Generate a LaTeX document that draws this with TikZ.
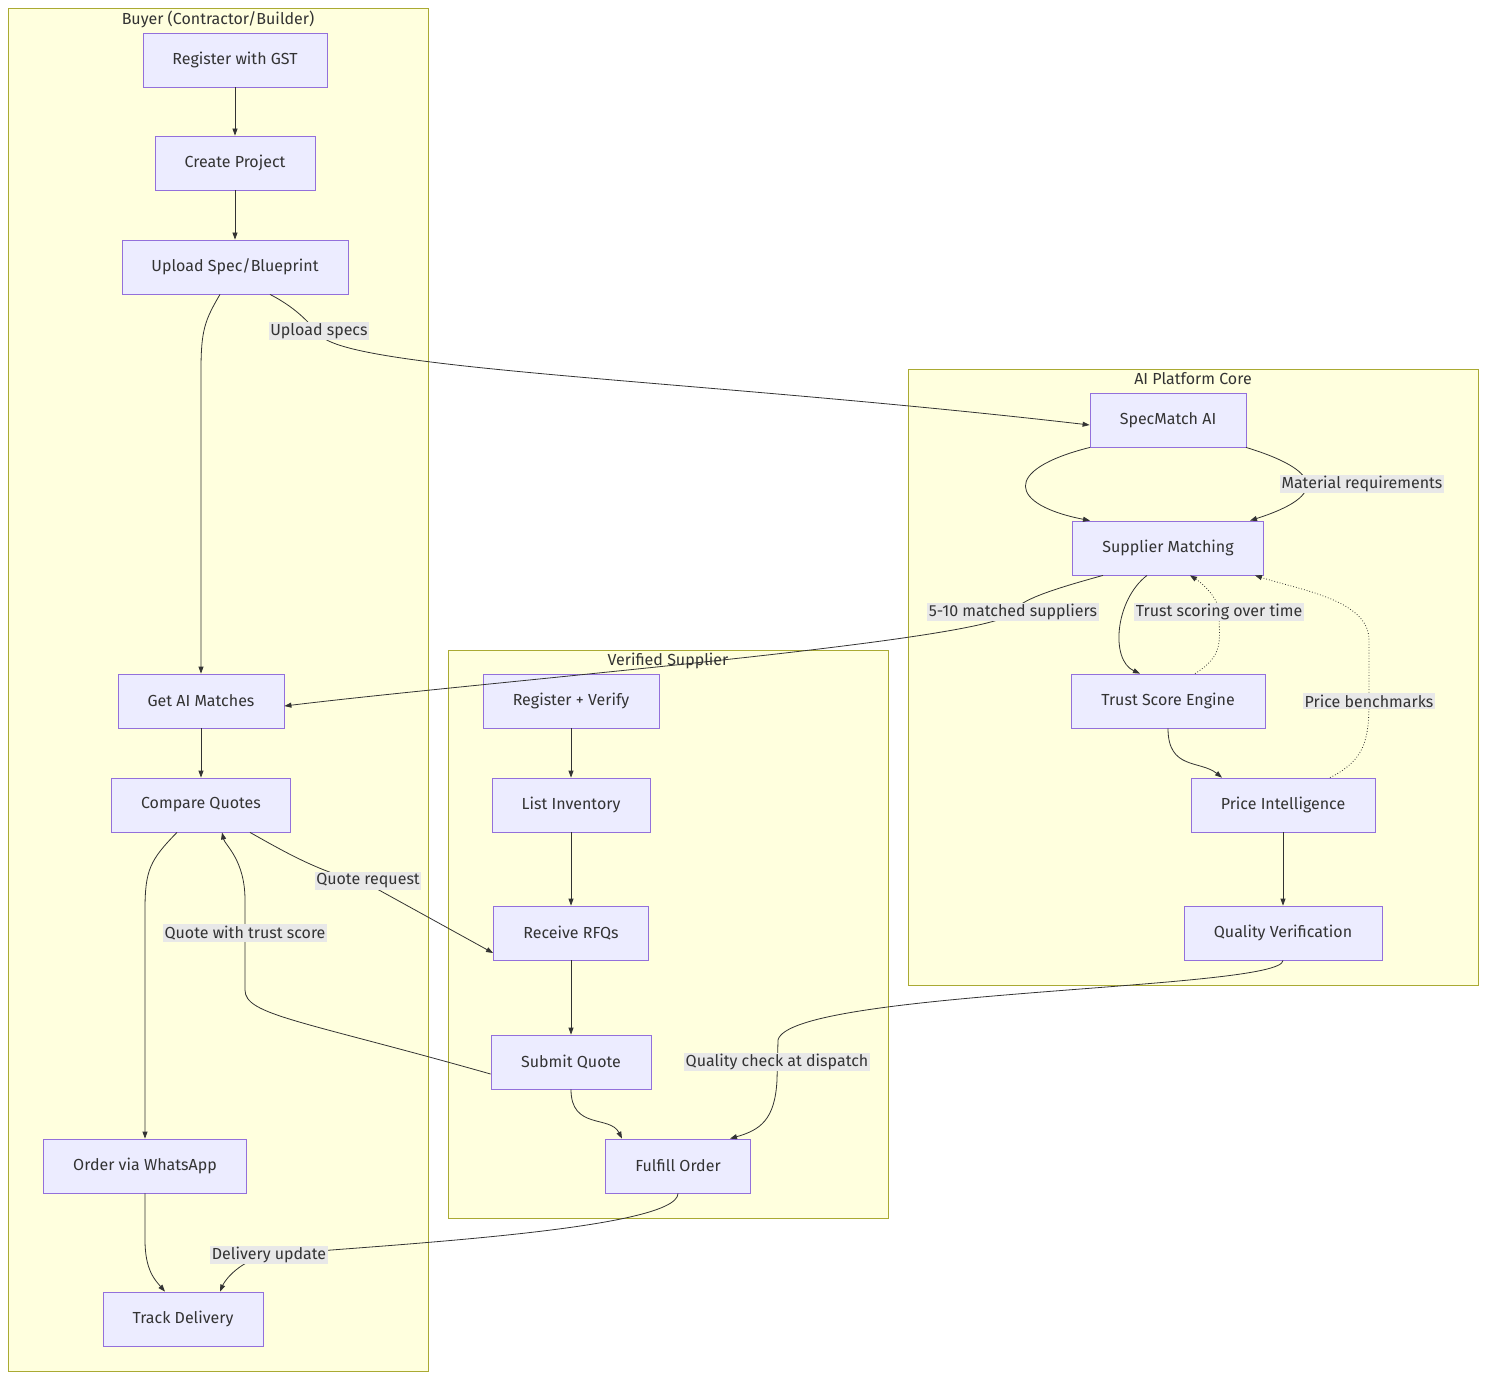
\documentclass[tikz,border=0pt]{standalone}
\usepackage{fontspec}
\setmainfont{Fira Sans}
\usetikzlibrary{arrows.meta}
\definecolor{nfill}{HTML}{ECECFF}
\definecolor{nline}{HTML}{9370DB}
\definecolor{cfill}{HTML}{FFFFDE}
\definecolor{cline}{HTML}{AAAA33}
\definecolor{lbg}{HTML}{E8E8E8}
\definecolor{ink}{HTML}{333333}
\begin{document}
\begin{tikzpicture}[x=1pt,y=-1pt,
  every node/.style={font=\fontsize{16}{19}\selectfont,text=ink},
  box/.style={draw=nline,fill=nfill,line width=0.8pt,minimum height=54pt,inner sep=0pt},
  clus/.style={draw=cline,fill=cfill,line width=0.8pt},
  ctitle/.style={anchor=north,inner sep=2pt},
  lab/.style={fill=lbg,inner sep=1.5pt},
  e/.style={draw=ink,line width=0.8pt,-{Triangle[length=7pt,width=5pt]}},
  d/.style={e,dotted}]
\useasboundingbox (0,0) rectangle (1487,1380);
\draw[clus] (8,8) rectangle (428,1371);
\node[ctitle] (t1) at (218,9) {Buyer (Contractor/Builder)};
\draw[clus] (448,650) rectangle (888,1218);
\node[ctitle] (t2) at (668,651) {Verified Supplier};
\draw[clus] (908,369) rectangle (1478,985);
\node[ctitle] (t3) at (1193,370) {AI Platform Core};

\node[box,minimum width=184pt] (gst) at (235,60) {Register with GST};
\node[box,minimum width=160pt] (cp) at (235,163) {Create Project};
\node[box,minimum width=226pt] (up) at (235,267) {Upload Spec/Blueprint};
\node[box,minimum width=166pt] (gm) at (201,701) {Get AI Matches};
\node[box,minimum width=179pt] (cq) at (201,805) {Compare Quotes};
\node[box,minimum width=203pt] (ow) at (145,1166) {Order via WhatsApp};
\node[box,minimum width=160pt] (td) at (183,1319) {Track Delivery};
\node[box,minimum width=176pt] (rv) at (571,701) {Register + Verify};
\node[box,minimum width=158pt] (li) at (571,805) {List Inventory};
\node[box,minimum width=155pt] (rr) at (571,933) {Receive RFQs};
\node[box,minimum width=160pt] (sq) at (571,1062) {Submit Quote};
\node[box,minimum width=145pt] (fo) at (678,1166) {Fulfill Order};
\node[box,minimum width=156pt] (sm) at (1168,420) {SpecMatch AI};
\node[box,minimum width=191pt] (sup) at (1168,548) {Supplier Matching};
\node[box,minimum width=194pt] (ts) at (1168,701) {Trust Score Engine};
\node[box,minimum width=184pt] (pi) at (1283,805) {Price Intelligence};
\node[box,minimum width=198pt] (qv) at (1283,933) {Quality Verification};

\draw[e] (gst) -- (cp);
\draw[e] (cp) -- (up);
\draw[e] ([xshift=-15pt]up.south) .. controls (205,320) and (201,330) .. (201,370) -- (gm.north);
\draw[e] ([xshift=35pt]up.south) .. controls (300,310) and (310,325) .. (320,335) .. controls (350,370) and (700,380) .. ([yshift=-5pt]sm.west);
\node[lab] (l1) at (319,331) {Upload specs};
\draw[e] ([xshift=-78pt]sm.south) .. controls (1000,470) and (1010,505) .. ([xshift=-78pt]sup.north);
\draw[e] ([xshift=78pt]sm.south) .. controls (1320,470) and (1330,495) .. ([xshift=82pt]sup.north);
\node[lab] (l2) at (1362,484) {Material requirements};
\draw[e] ([xshift=-65pt]sup.south) .. controls (1050,590) and (1020,600) .. (1013,612) .. controls (1000,640) and (500,680) .. ([yshift=-5pt]gm.east);
\node[lab] (l3) at (1013,612) {5-10 matched suppliers};
\draw[e] ([xshift=-21pt]sup.south) .. controls (1115,600) and (1110,660) .. ([xshift=-28pt]ts.north);
\draw[d] ([xshift=27pt]ts.north) .. controls (1225,655) and (1219,640) .. (1219,612) .. controls (1219,600) and (1205,585) .. ([xshift=22pt]sup.south);
\node[lab] (l4) at (1219,612) {Trust scoring over time};
\draw[e] (ts.south) .. controls (1168,770) and (1200,760) .. ([xshift=-61pt]pi.north);
\draw[d] ([xshift=47pt]pi.north) .. controls (1365,760) and (1369,740) .. (1369,700) -- (1369,640) .. controls (1369,600) and (1300,590) .. ([xshift=87pt]sup.south);
\node[lab] (l5) at (1369,701) {Price benchmarks};
\draw[e] (pi) -- (qv);
\draw[e] (qv.south) .. controls (1283,990) and (790,990) .. (778,1040) -- (777,1080) .. controls (775,1120) and (760,1130) .. ([xshift=52pt]fo.north);
\node[lab] (l6) at (777,1062) {Quality check at dispatch};
\draw[e] (gm) -- (cq);
\draw[e] ([xshift=-24pt]cq.south) .. controls (150,860) and (145,870) .. (145,910) -- (ow.north);
\draw[e] ([xshift=49pt]cq.south) .. controls (290,855) and (320,872) .. (368,884) -- ([yshift=-20pt]rr.west);
\node[lab] (l7) at (368,881) {Quote request};
\draw[e] ([yshift=-12pt]sq.west) .. controls (300,1020) and (245,1015) .. (245,990) -- (245,900) .. controls (245,860) and (225,845) .. ([xshift=21pt]cq.south);
\node[lab] (l8) at (245,933) {Quote with trust score};
\draw[e] (rv) -- (li);
\draw[e] (li) -- (rr);
\draw[e] (rr) -- (sq);
\draw[e] (sq.south) .. controls (571,1130) and (610,1115) .. ([xshift=-56pt]fo.north);
\draw[e] (fo.south) .. controls (678,1230) and (380,1245) .. (269,1255) .. controls (240,1260) and (225,1280) .. ([xshift=37pt]td.north);
\node[lab] (l9) at (269,1255) {Delivery update};
\draw[e] (ow.south) -- (145,1240) .. controls (145,1270) and (155,1280) .. ([xshift=-18pt]td.north);
\end{tikzpicture}
\end{document}
